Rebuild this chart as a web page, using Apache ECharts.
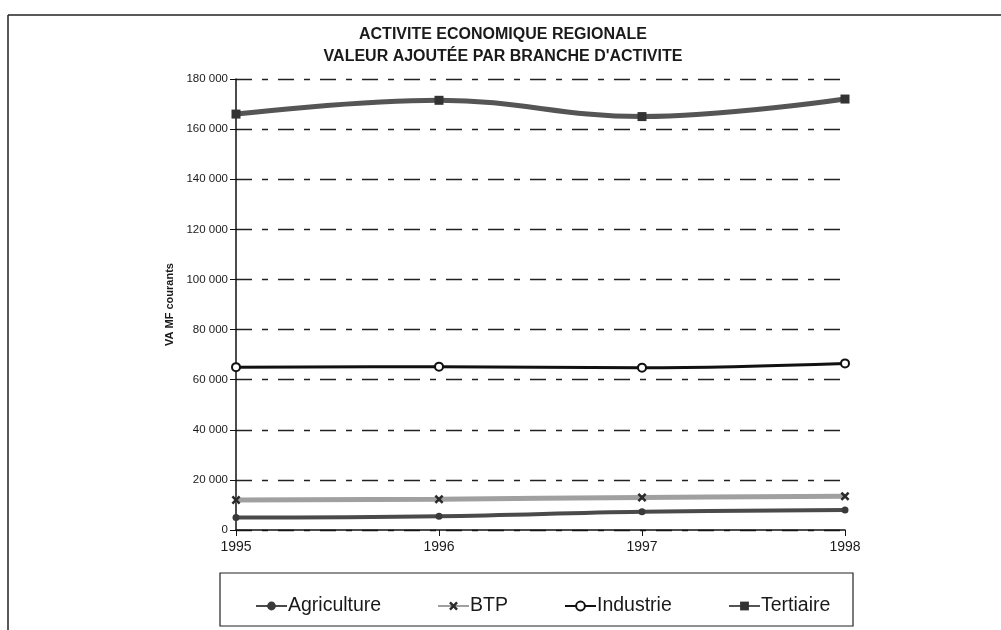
<!DOCTYPE html>
<html>
<head>
<meta charset="utf-8">
<script src="https://cdn.jsdelivr.net/npm/echarts@6/dist/echarts.min.js"></script>
<style>
  html, body { margin: 0; padding: 0; background: #fff; }
  #chart { width: 1001px; height: 630px; }
</style>
</head>
<body>
<div id="chart"></div>
<script>
// years on the x axis
const years = ['1995', '1996', '1997', '1998'];

// valeur ajoutée (MF courants)
const agriculture = [5000, 5500, 7300, 8000];
const btp = [12000, 12300, 13000, 13500];
const industrie = [65000, 65200, 64800, 66500];
const tertiaire = [166000, 171500, 165000, 172000];

const seriesNames = ['Agriculture', 'BTP', 'Industrie', 'Tertiaire'];
// legend item left positions (one legend each, Excel spacing is uneven)
const legendLefts = [250, 432, 559, 723];

const xSymbol = 'path://M0,2L2,0L5,3L8,0L10,2L7,5L10,8L8,10L5,7L2,10L0,8L3,5Z';

function fmt(v) {
    return String(v).replace(/\B(?=(\d{3})+(?!\d))/g, ' ');
}

const chart = echarts.init(document.getElementById('chart'));

const option = {
    backgroundColor: '#fff',
    animation: false,
    textStyle: { fontFamily: 'Liberation Sans, Arial, sans-serif' },
    title: {
        text: 'ACTIVITE ECONOMIQUE REGIONALE\nVALEUR AJOUTÉE PAR BRANCHE D\'ACTIVITE',
        left: 498,
        textAlign: 'center',
        top: 19,
        textStyle: { fontSize: 16, fontWeight: 'bold', color: '#1a1a1a', lineHeight: 22 }
    },
    grid: { left: 236, right: 156, top: 79, bottom: 100 },
    xAxis: {
        type: 'category',
        data: years,
        boundaryGap: false,
        axisLine: { lineStyle: { color: '#111', width: 1.5 } },
        axisTick: { alignWithLabel: true, length: 6, lineStyle: { color: '#111' } },
        axisLabel: { fontSize: 14, color: '#1a1a1a', margin: 10 }
    },
    yAxis: {
        type: 'value',
        min: 0,
        max: 180000,
        interval: 20000,
        name: 'VA MF courants',
        nameLocation: 'middle',
        nameRotate: 90,
        nameGap: 52,
        nameTextStyle: { fontSize: 11, fontWeight: 'bold', color: '#1a1a1a' },
        axisLine: { show: true, lineStyle: { color: '#111', width: 1.5 } },
        axisTick: { show: true, length: 6, lineStyle: { color: '#111' } },
        axisLabel: { fontSize: 11.5, color: '#1a1a1a', margin: 8, formatter: fmt },
        splitLine: { lineStyle: { color: '#222', width: 1.4, type: [16, 10, 6, 10] } }
    },
    legend: seriesNames.map((name, i) => ({
        data: [name],
        left: legendLefts[i],
        top: 591,
        itemWidth: 31,
        itemHeight: 11,
        itemGap: 0,
        textStyle: { fontSize: 19.5, color: '#1a1a1a', padding: [0, 0, 0, -4] }
    })),
    graphic: [
        // outer frame of the scanned chart area
        { type: 'line', shape: { x1: 8, y1: 15, x2: 1001, y2: 15 }, style: { stroke: '#222', lineWidth: 1.5 } },
        { type: 'line', shape: { x1: 8, y1: 15, x2: 8, y2: 630 }, style: { stroke: '#222', lineWidth: 1.5 } },
        // legend box
        { type: 'rect', shape: { x: 220, y: 573, width: 633, height: 53 }, style: { fill: 'none', stroke: '#222', lineWidth: 1.2 } }
    ],
    series: [
        {
            name: 'Agriculture', type: 'line', data: agriculture, smooth: 0.4,
            symbol: 'circle', symbolSize: 7,
            lineStyle: { color: '#4a4a4a', width: 4 },
            itemStyle: { color: '#3a3a3a' }
        },
        {
            name: 'BTP', type: 'line', data: btp, smooth: 0.4,
            symbol: xSymbol, symbolSize: 9,
            lineStyle: { color: '#a0a0a0', width: 5 },
            itemStyle: { color: '#2a2a2a' }
        },
        {
            name: 'Industrie', type: 'line', data: industrie, smooth: 0.4,
            symbol: 'emptyCircle', symbolSize: 8,
            lineStyle: { color: '#111', width: 3 },
            itemStyle: { color: '#111', borderWidth: 1.5 }
        },
        {
            name: 'Tertiaire', type: 'line', data: tertiaire, smooth: 0.4,
            symbol: 'rect', symbolSize: 9,
            lineStyle: { color: '#555', width: 5 },
            itemStyle: { color: '#333' }
        }
    ]
};

chart.setOption(option);
</script>
</body>
</html>
